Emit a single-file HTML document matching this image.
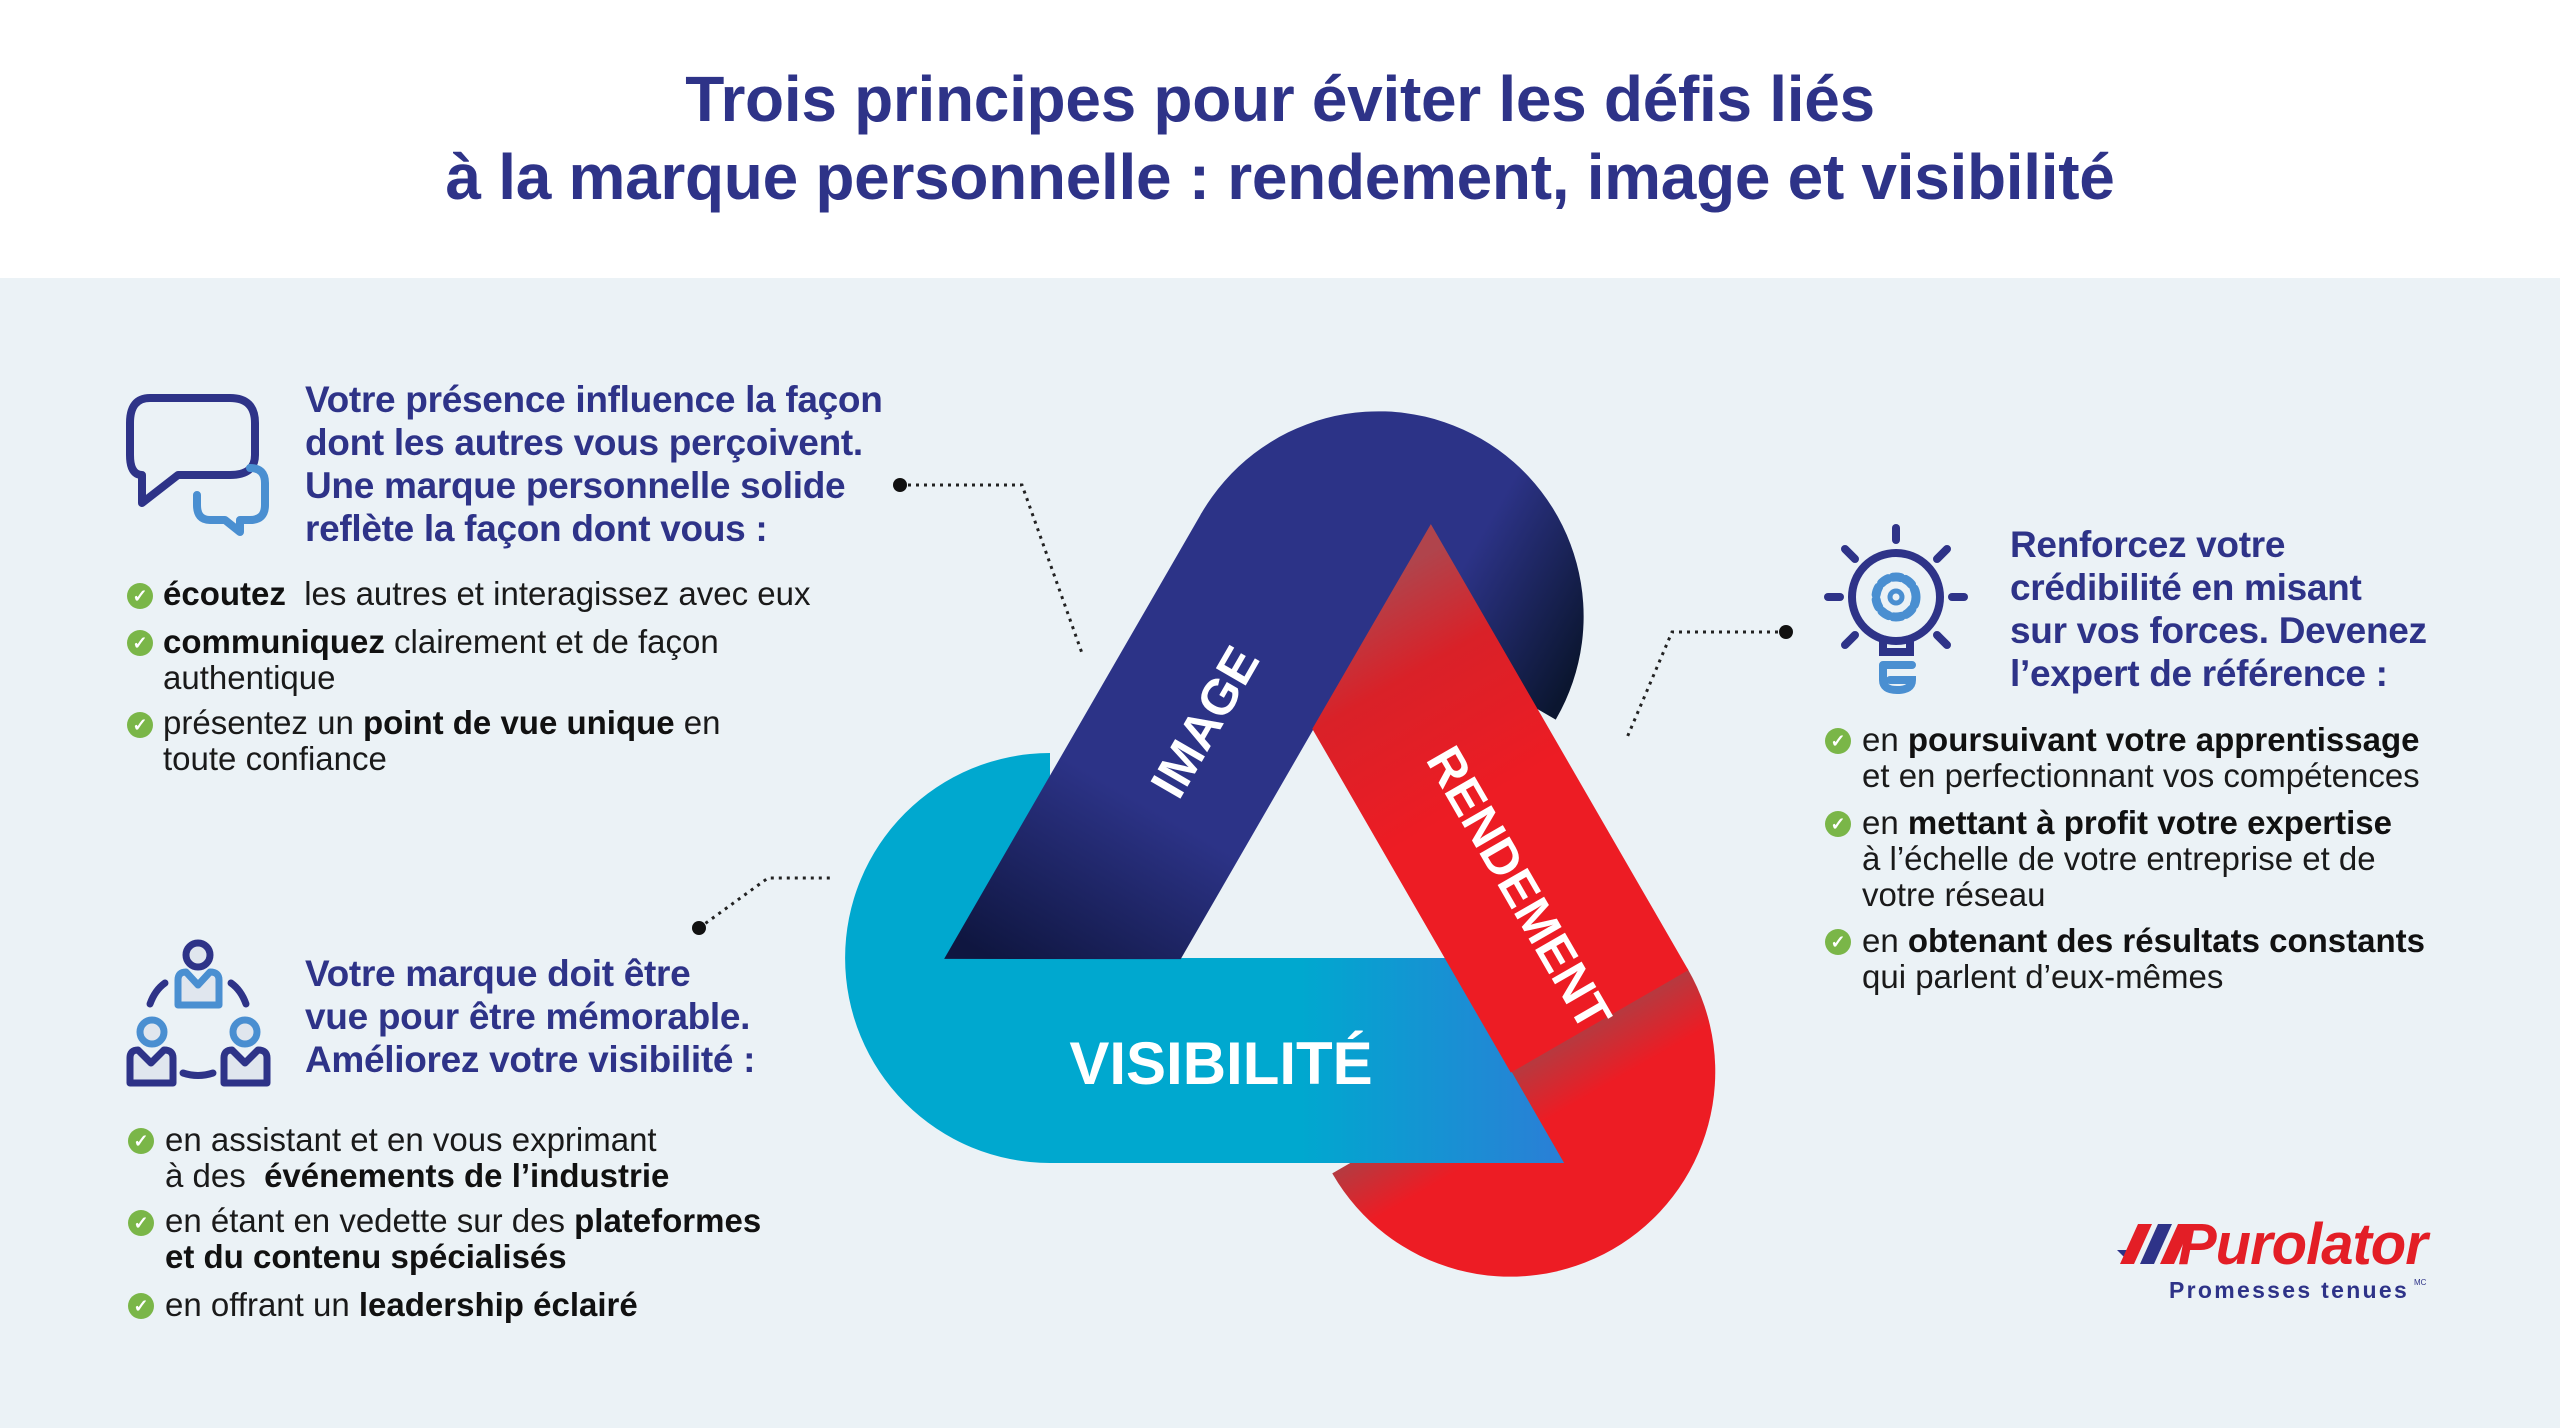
<!DOCTYPE html>
<html><head><meta charset="utf-8"><style>
*{margin:0;padding:0;box-sizing:border-box}
body{width:2560px;height:1428px;overflow:hidden;background:#ebf2f6;font-family:"Liberation Sans",sans-serif;position:relative}
#hdr{position:absolute;left:0;top:0;width:2560px;height:278px;background:#fff}
.t{position:absolute;left:0;width:2560px;text-align:center;color:#2e3388;font-size:64px;font-weight:bold;letter-spacing:-0.3px;white-space:nowrap}
.h{position:absolute;color:#2e3388;font-weight:bold;font-size:37px;line-height:43px;letter-spacing:-0.3px;white-space:nowrap}
.b{position:absolute;color:#1a1a1a;font-size:33px;line-height:36px;letter-spacing:0px;white-space:nowrap}
.b b{color:#111}
.ck{position:absolute;width:26px;height:26px;border-radius:50%;background:#7ab648;color:#fff;font-size:18px;line-height:26px;text-align:center;font-weight:bold}
svg{position:absolute;left:0;top:0}
</style></head><body>
<div id="hdr"></div>
<div class="t" style="top:62px">Trois principes pour éviter les défis liés</div>
<div class="t" style="top:140px">à la marque personnelle : rendement, image et visibilité</div>

<svg width="2560" height="1428" viewBox="0 0 2560 1428">
<defs>
<linearGradient id="gc" gradientUnits="userSpaceOnUse" x1="1300" y1="0" x2="1560" y2="0"><stop offset="0" stop-color="#00a8cf"/><stop offset="1" stop-color="#2a7fd6"/></linearGradient>
<linearGradient id="gb" gradientUnits="userSpaceOnUse" x1="1330" y1="0" x2="1540" y2="0"><stop offset="0" stop-color="#2c3387"/><stop offset="1" stop-color="#0f1640"/></linearGradient>
<linearGradient id="gbc" gradientUnits="userSpaceOnUse" x1="0" y1="1060" x2="0" y2="760"><stop offset="0" stop-color="#2c3387"/><stop offset="0.5" stop-color="#2c3387"/><stop offset="1" stop-color="#0b1630"/></linearGradient>
<linearGradient id="gr" gradientUnits="userSpaceOnUse" x1="1300" y1="0" x2="1540" y2="0"><stop offset="0" stop-color="#ed1c24"/><stop offset="0.6" stop-color="#d92128"/><stop offset="1" stop-color="#b0444c"/></linearGradient>
<linearGradient id="grc" gradientUnits="userSpaceOnUse" x1="1050" y1="0" x2="990" y2="0"><stop offset="0" stop-color="#b53a40"/><stop offset="1" stop-color="#ed1c24"/></linearGradient>
</defs>
<!-- red cap -->
<g transform="rotate(240 1313 882)">
<path d="M1050,753 A205,205 0 0 0 1050,1163 L1051,1163 L1051,753 Z" fill="url(#grc)"/>
</g>
<!-- cyan full -->
<path d="M1050,753 A205,205 0 0 0 1050,1163 L1564,1163 L1446,958 L1050,958 Z" fill="#00a8cf"/>
<polygon points="1049,958 1446,958 1564,1163 1049,1163" fill="url(#gc)"/>
<!-- blue full -->
<g transform="rotate(120 1313 882)">
<path d="M1050,753 A205,205 0 0 0 1050,1163 L1051,1163 L1051,753 Z" fill="url(#gbc)"/>
<polygon points="1049,958 1446,958 1564,1163 1049,1163" fill="url(#gb)"/>
</g>
<!-- red band on top -->
<g transform="rotate(240 1313 882)">
<polygon points="1049,958 1446,958 1564,1163 1049,1163" fill="url(#gr)"/>
</g>
<text x="1221" y="1084" text-anchor="middle" font-family="Liberation Sans" font-weight="bold" font-size="60" fill="#fff">VISIBILITÉ</text>
<text transform="translate(1205,722) rotate(-60)" text-anchor="middle" font-family="Liberation Sans" font-weight="bold" font-size="50" fill="#fff" dy="17">IMAGE</text>
<text transform="translate(1519,888) rotate(60)" text-anchor="middle" font-family="Liberation Sans" font-weight="bold" font-size="50" fill="#fff" dy="17">RENDEMENT</text>

<!-- connectors -->
<g stroke="#222" stroke-width="3" stroke-dasharray="3 5" fill="none">
<polyline points="900,485 1022,485 1083,656"/>
<polyline points="1786,632 1672,632 1626,740"/>
<polyline points="699,928 768,878 833,878"/>
</g>
<circle cx="900" cy="485" r="7" fill="#111"/>
<circle cx="1786" cy="632" r="7" fill="#111"/>
<circle cx="699" cy="928" r="7" fill="#111"/>

<!-- speech bubbles -->
<g fill="none" stroke-linejoin="round" stroke-linecap="round" stroke-width="8">
<path d="M150,398 H230 Q255,398 255,423 V455 Q255,475 230,475 H178 L142,503 V475 Q130,475 130,455 V423 Q130,398 150,398Z" stroke="#2e3388"/>
<path d="M250,468 Q265,468 265,483 V505 Q265,520 250,520 H240 V532 L225,520 H210 Q197,520 197,505 V495" stroke="#4a8fd1"/>
</g>
<!-- bulb -->
<g stroke-linecap="round" fill="none">
<g stroke="#2e3388" stroke-width="8">
<circle cx="1896" cy="597" r="44"/>
<line x1="1896" y1="528" x2="1896" y2="540"/>
<line x1="1845" y1="549" x2="1855" y2="559"/><line x1="1947" y1="549" x2="1937" y2="559"/>
<line x1="1828" y1="597" x2="1840" y2="597"/><line x1="1952" y1="597" x2="1964" y2="597"/>
<line x1="1845" y1="645" x2="1855" y2="635"/><line x1="1947" y1="645" x2="1937" y2="635"/>
<path d="M1883,641 V652 H1910 V641"/>
</g>
<g stroke="#4a8fd1" stroke-width="8">
<path d="M1883,665 H1912 M1883,665 V680 Q1883,690 1897,690 Q1912,690 1912,680 H1890"/>
<circle cx="1896" cy="597" r="20" stroke-dasharray="8 5" stroke-width="9"/>
<circle cx="1896" cy="597" r="6" stroke-width="5"/>
</g>
</g>
<!-- people -->
<g stroke-width="7" stroke-linejoin="round">
<circle cx="198" cy="955" r="12" fill="#e0e6ee" stroke="#2e3388"/>
<path d="M178,1005 V980 Q178,972 186,972 L198,985 L210,972 Q219,972 219,980 V1005Z" fill="#e0e6ee" stroke="#4a8fd1"/>
<circle cx="152" cy="1032" r="12" fill="#e0e6ee" stroke="#4a8fd1"/>
<path d="M130,1083 V1058 Q130,1050 138,1050 L151,1063 L164,1050 Q173,1050 173,1058 V1083Z" fill="#e0e6ee" stroke="#2e3388"/>
<circle cx="245" cy="1032" r="12" fill="#e0e6ee" stroke="#4a8fd1"/>
<path d="M224,1083 V1058 Q224,1050 232,1050 L245,1063 L258,1050 Q267,1050 267,1058 V1083Z" fill="#e0e6ee" stroke="#2e3388"/>
<g fill="none" stroke="#2e3388" stroke-linecap="round">
<path d="M150,1004 Q155,990 165,983"/><path d="M231,983 Q241,990 246,1004"/><path d="M183,1073 Q198,1078 213,1073"/>
</g>
</g>
<!-- logo -->
<polygon points="2117,1250 2140,1250 2130,1263" fill="#2e3388"/>
<polygon points="2138,1224 2152,1224 2134,1264 2120,1264" fill="#e31e26"/>
<polygon points="2158,1224 2172,1224 2154,1264 2140,1264" fill="#2e3388"/>
<polygon points="2178,1224 2192,1224 2174,1264 2160,1264" fill="#e31e26"/>
<text x="2178" y="1264" font-family="Liberation Sans" font-weight="bold" font-style="italic" font-size="58" fill="#e31e26" letter-spacing="-1">Purolator</text>
<text x="2169" y="1298" font-family="Liberation Sans" font-weight="bold" font-size="23" fill="#2e3388" letter-spacing="2.3">Promesses tenues</text>
<text x="2414" y="1285" font-family="Liberation Sans" font-size="8" fill="#2e3388">MC</text>
</svg>

<!-- top-left -->
<div class="h" style="left:305px;top:378px">Votre présence influence la façon<br>dont les autres vous perçoivent.<br>Une marque personnelle solide<br>reflète la façon dont vous :</div>
<div class="ck" style="left:127px;top:583px">✓</div>
<div class="b" style="left:163px;top:576px"><b>écoutez</b>&nbsp; les autres et interagissez avec eux</div>
<div class="ck" style="left:127px;top:630px">✓</div>
<div class="b" style="left:163px;top:624px"><b>communiquez</b> clairement et de façon<br>authentique</div>
<div class="ck" style="left:127px;top:712px">✓</div>
<div class="b" style="left:163px;top:705px">présentez un <b>point de vue unique</b> en<br>toute confiance</div>

<!-- bottom-left -->
<div class="h" style="left:305px;top:952px">Votre marque doit être<br>vue pour être mémorable.<br>Améliorez votre visibilité :</div>
<div class="ck" style="left:128px;top:1128px">✓</div>
<div class="b" style="left:165px;top:1122px">en assistant et en vous exprimant<br>à des&nbsp; <b>événements de l’industrie</b></div>
<div class="ck" style="left:128px;top:1210px">✓</div>
<div class="b" style="left:165px;top:1203px">en étant en vedette sur des <b>plateformes</b><br><b>et du contenu spécialisés</b></div>
<div class="ck" style="left:128px;top:1293px">✓</div>
<div class="b" style="left:165px;top:1287px">en offrant un <b>leadership éclairé</b></div>

<!-- right -->
<div class="h" style="left:2010px;top:523px">Renforcez votre<br>crédibilité en misant<br>sur vos forces. Devenez<br>l’expert de référence :</div>
<div class="ck" style="left:1825px;top:728px">✓</div>
<div class="b" style="left:1862px;top:722px">en <b>poursuivant votre apprentissage</b><br>et en perfectionnant vos compétences</div>
<div class="ck" style="left:1825px;top:811px">✓</div>
<div class="b" style="left:1862px;top:805px">en <b>mettant à profit votre expertise</b><br>à l’échelle de votre entreprise et de<br>votre réseau</div>
<div class="ck" style="left:1825px;top:929px">✓</div>
<div class="b" style="left:1862px;top:923px">en <b>obtenant des résultats constants</b><br>qui parlent d’eux-mêmes</div>
</body></html>
